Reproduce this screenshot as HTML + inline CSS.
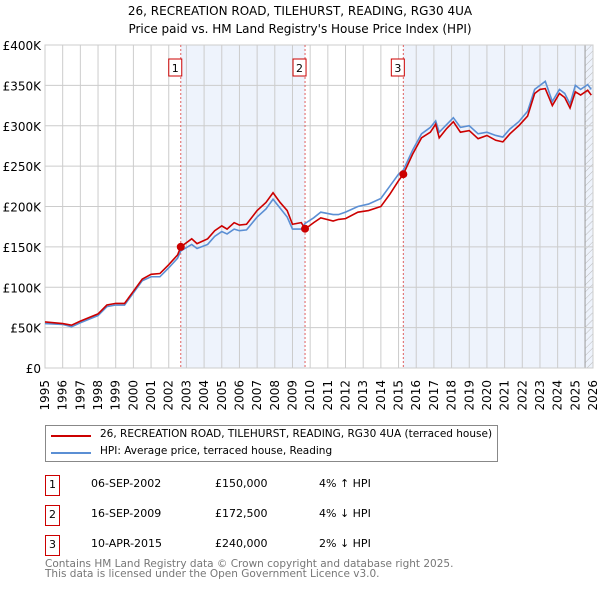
<!DOCTYPE html>
<html><head><meta charset="utf-8"><style>
body{margin:0;background:#fff;font-family:"DejaVu Sans","Liberation Sans",sans-serif;}
#wrap{position:relative;width:600px;height:590px;overflow:hidden}
.t{position:absolute;white-space:nowrap;color:#000}
</style></head><body><div id="wrap">
<div class="t" style="left:0;width:600px;text-align:center;top:4px;font-size:12px">26, RECREATION ROAD, TILEHURST, READING, RG30 4UA</div>
<div class="t" style="left:0;width:600px;text-align:center;top:22px;font-size:12px">Price paid vs. HM Land Registry's House Price Index (HPI)</div>
<svg id="ch" width="600" height="420" style="position:absolute;left:0;top:0;font-family:'DejaVu Sans',sans-serif"></svg>
<div style="position:absolute;left:45px;top:425px;width:451px;height:35px;border:1px solid #888">
<div style="position:absolute;left:5px;top:9px;width:40px;height:2px;background:#cc0000"></div>
<div class="t" style="left:54px;top:2px;font-size:10.5px">26, RECREATION ROAD, TILEHURST, READING, RG30 4UA (terraced house)</div>
<div style="position:absolute;left:5px;top:26px;width:40px;height:2px;background:#5b8fd4"></div>
<div class="t" style="left:54px;top:19px;font-size:10.5px">HPI: Average price, terraced house, Reading</div>
</div>
<div id="tbl"></div>
<div class="t" style="left:45px;top:559px;font-size:10.5px;color:#777;line-height:10px">Contains HM Land Registry data © Crown copyright and database right 2025.<br>This data is licensed under the Open Government Licence v3.0.</div>
</div>
<script>
const years=[1995,1996,1996.5,1997,1998,1998.5,1999,1999.5,2000,2000.5,2001,2001.5,2002,2002.5,2002.68,2003.3,2003.6,2004.2,2004.6,2005,2005.3,2005.7,2006,2006.4,2007,2007.5,2007.9,2008.3,2008.7,2009,2009.5,2009.71,2010.2,2010.6,2011.3,2011.6,2012,2012.7,2013.3,2014,2014.5,2015,2015.27,2015.8,2016.3,2016.8,2017.1,2017.3,2017.7,2018.1,2018.5,2019,2019.5,2020,2020.5,2020.9,2021.3,2021.8,2022.3,2022.7,2023,2023.3,2023.7,2024.1,2024.4,2024.7,2025,2025.3,2025.7,2025.9];
const priceSeries=[57,55,53,58,67,78,80,80,95,110,116,117,128,140,150,160,154,160,170,176,172,180,177,178,195,205,217,205,195,178,180,172,180,186,182,184,185,193,195,200,215,232,240,265,285,292,302,285,296,305,292,294,284,288,282,280,290,300,312,340,345,346,325,340,335,322,342,338,344,338];
const hpiSeries=[55,54,51,56,65,76,78,78,93,108,113,113,124,136,145,153,148,153,163,169,166,172,170,171,187,197,209,198,187,172,172,179,186,193,190,190,193,200,203,210,225,240,245,270,290,298,306,292,301,310,298,300,290,292,288,286,296,305,318,345,350,355,330,345,340,327,350,345,351,345];
const yTicks=[0,50,100,150,200,250,300,350,400];
const xTicks=[1995,1996,1997,1998,1999,2000,2001,2002,2003,2004,2005,2006,2007,2008,2009,2010,2011,2012,2013,2014,2015,2016,2017,2018,2019,2020,2021,2022,2023,2024,2025,2026];
const saleYears=[2002.68,2009.71,2015.27];
const saleValues=[150,172.5,240];
const saleLabels=["1","2","3"];
const saleDates=["06-SEP-2002","16-SEP-2009","10-APR-2015"];
const salePrices=["£150,000","£172,500","£240,000"];
const saleDiffs=["4% ↑ HPI","4% ↓ HPI","2% ↓ HPI"];
const L=45,R=593,T=45,B=368;
const X=y=>L+(y-1995)/31*(R-L), Y=v=>B-v/400*(B-T);
const ns="http://www.w3.org/2000/svg",svg=document.getElementById('ch');
function mk(t,a,p){const e=document.createElementNS(ns,t);for(const k in a)e.setAttribute(k,a[k]);(p||svg).appendChild(e);return e;}
for(let i=0;i<saleYears.length;i++){const a=saleYears[i],b=i+1<saleYears.length?saleYears[i+1]:2026;if(i%2==0){const r=mk('rect',{x:X(a),y:T,width:X(b)-X(a),height:B-T,fill:'#eef3fc'});}}
mk('defs',{}).innerHTML='<pattern id="h" width="5" height="5" patternUnits="userSpaceOnUse" patternTransform="rotate(45)"><line x1="0" y1="0" x2="0" y2="5" stroke="#bbb" stroke-width="1"/></pattern>';
mk('rect',{x:X(2025.55),y:T,width:R-X(2025.55),height:B-T,fill:'url(#h)'});
mk('line',{x1:X(2025.55),x2:X(2025.55),y1:T,y2:B,stroke:'#999'});
yTicks.forEach(v=>{mk('line',{x1:L,x2:R,y1:Y(v),y2:Y(v),stroke:'#ccc'});const t=mk('text',{x:L-4,y:Y(v)+5,'text-anchor':'end','font-size':'12'});t.textContent=v==0?'£0':'£'+v+'K';});
xTicks.forEach(y=>{mk('line',{x1:X(y),x2:X(y),y1:T,y2:B,stroke:'#ccc'});const t=mk('text',{x:X(y),y:B+12,'text-anchor':'end','font-size':'12',transform:`rotate(-90 ${X(y)} ${B+12})`,dy:'4'});t.textContent=y;});
mk('rect',{x:L,y:T,width:R-L,height:B-T,fill:'none',stroke:'#ccc'});
saleYears.forEach((y,i)=>{mk('line',{x1:X(y),x2:X(y),y1:T,y2:B,stroke:'#e06060','stroke-dasharray':'2,2'});const g=mk('g',{});mk('rect',{x:X(y)-12,y:59,width:13,height:17,fill:'#fff',stroke:'#cc0000'},g);const t=mk('text',{x:X(y)-5.5,y:72,'text-anchor':'middle','font-size':'11'},g);t.textContent=saleLabels[i];});
const line=(arr,c)=>mk('polyline',{points:years.map((y,i)=>X(y)+','+Y(arr[i])).join(' '),fill:'none',stroke:c,'stroke-width':1.6});
const h=line(hpiSeries,'#5b8fd4');
const p=line(priceSeries,'#cc0000');
saleYears.forEach((y,i)=>{const c=mk('circle',{cx:X(y),cy:Y(saleValues[i]),r:4,fill:'#cc0000'});});
const tbl=document.getElementById('tbl');
saleLabels.forEach((s,i)=>{const top=475+i*30;
const row=document.createElement('div');
row.innerHTML=`<div style="position:absolute;left:45px;top:${top}px;width:13px;height:19px;border:1px solid #cc0000;font-size:11px;text-align:center;line-height:17px">${s}</div><div class="t" style="left:91px;top:${top+2}px;font-size:11px">${saleDates[i]}</div><div class="t" style="left:215px;top:${top+2}px;font-size:11px">${salePrices[i]}</div><div class="t" style="left:319px;top:${top+2}px;font-size:11px">${saleDiffs[i]}</div>`;
tbl.appendChild(row);});
</script></body></html>
